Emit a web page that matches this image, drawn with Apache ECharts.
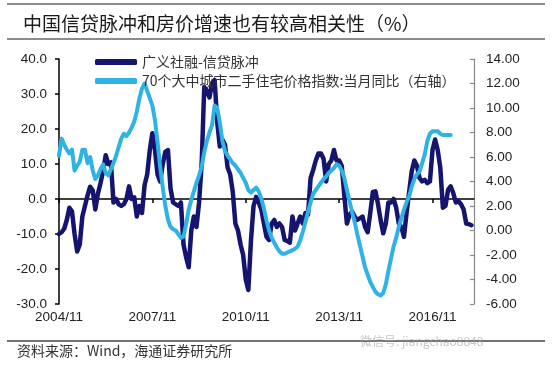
<!DOCTYPE html>
<html>
<head>
<meta charset="utf-8">
<script src="https://cdn.jsdelivr.net/npm/echarts@6/dist/echarts.min.js"></script>
<style>
html,body{margin:0;padding:0;background:#fff;}
#c{width:553px;height:369px;}
</style>
</head>
<body>
<div id="c"></div>
<script>
// categories: monthly from 2004/11 to 2018/03
var startYear = 2004, startMonth = 11, monthCount = 161;
var months = [];
for (var i = 0; i < monthCount; i++) {
  var t = startYear * 12 + (startMonth - 1) + i;
  months.push(Math.floor(t / 12) + '/' + ((t % 12) + 1));
}
var tickLabels = ['2004/11', '2007/11', '2010/11', '2013/11', '2016/11'];

var seriesNames = ['广义社融-信贷脉冲', '70个大中城市二手住宅价格指数:当月同比（右轴）'];

// 广义社融-信贷脉冲 (left axis)
var creditPulse = [
  -10, -9.5, -8.5, -6, -2.5, -3.5, -10, -15, -13, -5,
  -2, 1, 3.5, 2.5, -3, 1.5, 4.5, 8, 12.5, 10,
  10.5, -1, 0, -1.5, -2, -1.5, 0, 3.6, 0, 0.5,
  -5, -2, -4, 4, 7, 14, 18.8, 14, 7, 5,
  10, 13.5, 14, 3, -1, -1.5, -2, -1, -13, -16.6,
  -19.5, -9, -5, -8, -1, 10, 32, 31, 29, 33,
  34, 22, 15, 17, 15.5, 9, 7, 2, -7, -9,
  -13, -16, -23, -26, -12, -2, 0.6, -1, -3, -7,
  -10.8, -11.7, -7, -6, -8, -7, -8, -11.7, -12, -12.5,
  -5, -9, -7, -5, -7, -4, -4.5, 6, 8.3, 11,
  13, 13, 11.5, 5, 10, 11, 14, 11, 11, 9.5,
  1, -7, -4.5, -3.6, -5, -6, -5.5, -5, -8, -9.5,
  -4, 2, 2.2, -1.5, -6, -9.8, -7, -1, -1, 0,
  -2.5, -7, -8, -10.8, -4, 2, 8, 11, 9.5, 6,
  5, 5.5, 4.5, 5, 14, 17, 14, 9, -2.5, -2,
  2.6, 3.6, 1.7, -1, -0.6, -1.5, -3, -7, -7.2, -7.5
];

// 70个大中城市二手住宅价格指数:当月同比 (right axis)
var housePrice = [
  6.1, 7.5, 7.0, 6.6, 6.3, 6.6, 4.9, 5.3, 5.6, 6.6,
  6.6, 5.5, 6.0, 4.9, 4.2, 4.5, 5.0, 5.4, 4.7, 4.5,
  5.0, 5.5, 6.1, 6.8, 7.5, 7.9, 7.7, 8.0, 8.4, 8.9,
  9.7, 10.8, 11.6, 12.0, 11.4, 10.8, 10.2, 9.0, 7.2, 5.2,
  3.5, 2.0, 0.9, 0.3, 0.1, 0.0, -0.3, -0.6, -0.5, 0.5,
  1.7, 2.5, 3.2, 3.9, 4.5, 5.2, 6.4, 7.3, 8.0, 8.6,
  10.2, 10.0, 8.8, 7.3, 6.5, 6.1, 5.8, 5.5, 5.3, 5.0,
  4.7, 4.3, 3.9, 3.3, 3.1, 3.3, 3.5, 3.2, 2.6, 1.8,
  0.8, 0.0, -0.6, -1.0, -1.4, -1.7, -1.9, -1.9, -1.8, -1.7,
  -1.6, -1.5, -1.3, -0.8, -0.1, 0.7, 1.5, 2.3, 3.0, 3.3,
  3.6, 3.9, 4.2, 4.4, 4.7, 4.9, 5.1, 5.4, 5.3, 4.9,
  4.3, 3.3, 2.4, 1.5, 0.7, -0.3, -1.2, -2.1, -3.0, -3.6,
  -4.2, -4.6, -5.0, -5.2, -5.3, -5.1, -4.4, -3.3, -2.3, -1.3,
  -0.6, 0.3, 1.0, 1.7, 2.3, 2.8, 3.6, 4.2, 4.6, 4.8,
  5.5, 6.2, 7.3, 7.9, 8.1, 8.1, 8.1, 7.9, 7.8, 7.8,
  7.8, 7.8
];

var titleText = '中国信贷脉冲和房价增速也有较高相关性（%）';
var sourceText = '资料来源：Wind，海通证券研究所';
var watermarkText = '微信号: jiangchao8848';

var darkColor = '#15146f';
var lightColor = '#2fb2e4';

function isTick(idx) {
  return tickLabels.indexOf(months[idx]) >= 0;
}

var chart = echarts.init(document.getElementById('c'), null, {renderer: 'canvas'});
chart.setOption({
  animation: false,
  backgroundColor: '#fff',
  textStyle: {fontFamily: '"Noto Sans CJK SC", "Liberation Sans", sans-serif'},
  title: {
    text: titleText,
    left: 18, top: 9,
    textStyle: {fontSize: 19, fontWeight: 'normal', color: '#1a1a1a', fontFamily: '"Noto Sans CJK SC", sans-serif'}
  },
  graphic: [
    {type: 'line', shape: {x1: 7, y1: 4, x2: 545, y2: 4}, style: {stroke: '#666', lineWidth: 1.5}},
    {type: 'line', shape: {x1: 7, y1: 39, x2: 545, y2: 39}, style: {stroke: '#666', lineWidth: 1.5}},
    {type: 'line', shape: {x1: 7, y1: 341, x2: 545, y2: 341}, style: {stroke: '#444', lineWidth: 1.5}},
    {type: 'text', left: 17, top: 344, style: {text: sourceText, fontSize: 14, fill: '#333', fontFamily: '"Noto Sans CJK SC", sans-serif'}},
    {type: 'text', left: 360, top: 335, style: {text: watermarkText, fontSize: 12, fill: 'rgba(160,160,160,0.6)', fontFamily: '"Noto Sans CJK SC", sans-serif'}}
  ],
  legend: {
    orient: 'vertical',
    left: 90, top: 50,
    itemWidth: 42, itemHeight: 6, itemGap: 5,
    icon: 'roundRect',
    textStyle: {fontSize: 14, color: '#333', fontFamily: '"Noto Sans CJK SC", sans-serif'},
    data: seriesNames
  },
  grid: {left: 59, right: 79, top: 59, bottom: 65, containLabel: false},
  xAxis: [
    {
      type: 'category', data: months, boundaryGap: false, position: 'bottom',
      axisLine: {show: false}, axisTick: {show: false}, splitLine: {show: false},
      axisLabel: {
        interval: function (idx) { return isTick(idx); },
        color: '#222', fontSize: 13.5, margin: 6,
        fontFamily: '"Liberation Sans", Arial, sans-serif'
      }
    },
    {
      type: 'category', data: months, boundaryGap: false, position: 'bottom',
      axisLine: {show: true, onZero: true, onZeroAxisIndex: 0, lineStyle: {color: '#000', width: 1.5}},
      axisTick: {show: true, interval: function (idx) { return isTick(idx); }, length: 4, lineStyle: {color: '#000', width: 1.5}},
      axisLabel: {show: false}, splitLine: {show: false}
    }
  ],
  yAxis: [
    {
      type: 'value', min: -30, max: 40, interval: 10, position: 'left',
      axisLine: {show: true, lineStyle: {color: '#000', width: 1.5}},
      axisTick: {show: true, length: 4, lineStyle: {color: '#000', width: 1.5}},
      splitLine: {show: false},
      axisLabel: {formatter: function (v) { return v.toFixed(1); }, color: '#222', fontSize: 13.5, margin: 12,
        fontFamily: '"Liberation Sans", Arial, sans-serif'}
    },
    {
      type: 'value', min: -6, max: 14, interval: 2, position: 'right',
      axisLine: {show: true, lineStyle: {color: '#888', width: 1.2}},
      axisTick: {show: true, inside: true, length: 4, lineStyle: {color: '#888', width: 1.2}},
      splitLine: {show: false},
      axisLabel: {formatter: function (v) { return v.toFixed(2); }, color: '#222', fontSize: 13.5, margin: 12,
        fontFamily: '"Liberation Sans", Arial, sans-serif'}
    }
  ],
  series: [
    {
      name: seriesNames[0], type: 'line', xAxisIndex: 0, yAxisIndex: 0,
      data: creditPulse, showSymbol: false, symbol: 'none',
      lineStyle: {color: darkColor, width: 4.5, join: 'round', cap: 'round'},
      itemStyle: {color: darkColor}
    },
    {
      name: seriesNames[1], type: 'line', xAxisIndex: 0, yAxisIndex: 1,
      data: housePrice, showSymbol: false, symbol: 'none',
      lineStyle: {color: lightColor, width: 4, join: 'round', cap: 'round'},
      itemStyle: {color: lightColor}
    }
  ]
});
</script>
</body>
</html>
